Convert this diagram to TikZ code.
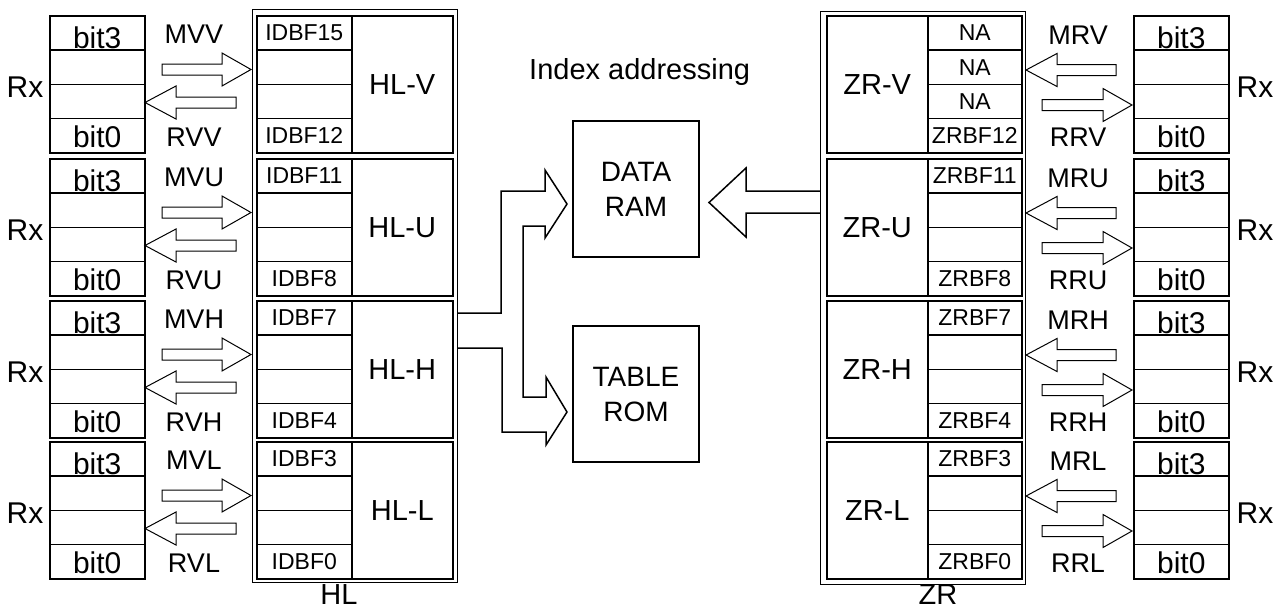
\documentclass[tikz,border=0pt]{standalone}
\usepackage{fontspec}
\setmainfont{Liberation Sans}
\newcommand{\blkarrow}[4]{%
  \pgfmathsetmacro{\bay}{#4-5.5}\pgfmathsetmacro{\bby}{#4+5.5}%
  \pgfmathsetmacro{\bcy}{#4-16.5}\pgfmathsetmacro{\bdy}{#4+16.5}%
  \pgfmathsetmacro{\bmy}{#4}%
  \draw[barrow] (#1,\bay) -- (#2,\bay) -- (#2,\bcy) -- (#3,\bmy) -- (#2,\bdy) -- (#2,\bby) -- (#1,\bby) -- cycle;}
\begin{document}
\begin{tikzpicture}[x=1pt,y=-1pt,
  cell/.style={draw, line width=1.5pt, minimum width=95pt, minimum height=34.25pt, inner sep=0pt, anchor=north west},
  tall/.style={draw, line width=1.5pt, minimum width=101pt, minimum height=137pt, inner sep=0pt, anchor=north west, font=\fontsize{29}{30}\selectfont},
  framebox/.style={draw, line width=1pt, inner sep=0pt, anchor=north west},
  biglbl/.style={inner sep=0pt, font=\fontsize{29}{30}\selectfont},
  bitlbl/.style={inner sep=0pt, font=\fontsize{30}{30}\selectfont},
  midlbl/.style={inner sep=0pt, font=\fontsize{27}{30}\selectfont},
  smlbl/.style={inner sep=0pt, font=\fontsize{23}{25}\selectfont},
  memb/.style={draw, line width=1.5pt, minimum width=126pt, minimum height=136pt, inner sep=0pt, align=center, font=\fontsize{28}{35}\selectfont},
  barrow/.style={draw, line width=1pt, line join=miter},
  conn/.style={draw, line width=1.5pt, line join=miter}]
\useasboundingbox (0,0) rectangle (1281,608);
% frames
\node[framebox, minimum width=205pt, minimum height=573pt] (hlf) at (252,9) {};
\node[framebox, minimum width=205pt, minimum height=573pt] (zrf) at (820,11) {};
\node[biglbl, anchor=base] (hlname) at (339,604) {HL};
\node[biglbl, anchor=base] (zrname) at (938,604) {ZR};
% left side
\foreach \T/\m/\r/\hl/\ta/\tb [count=\i] in {15/MVV/RVV/HL-V/IDBF15/IDBF12, 158/MVU/RVU/HL-U/IDBF11/IDBF8, 300/MVH/RVH/HL-H/IDBF7/IDBF4, 441/MVL/RVL/HL-L/IDBF3/IDBF0} {
  \foreach \k in {0,1,2,3} {
    \node[cell] (LR\i-\k) at (49,{\T+\k*34.25}) {};
    \node[cell] (HC\i-\k) at (256,{\T+\k*34.25}) {};
  }
  \node[tall] (HB\i) at (351,\T) {\hl};
  \node[bitlbl] at ([yshift=-5pt]LR\i-0.center) {bit3};
  \node[bitlbl] at ([yshift=-1pt]LR\i-3.center) {bit0};
  \node[smlbl] at (HC\i-0.center) {\ta};
  \node[smlbl] at (HC\i-3.center) {\tb};
  \node[bitlbl] (rxl\i) at (25,{\T+72}) {Rx};
  \node[midlbl] (ml\i) at (194,{\T+19.5}) {\m};
  \node[midlbl] (rl\i) at (194,{\T+122}) {\r};
  \blkarrow{162}{222}{251}{\T+54.5}
  \blkarrow{236}{176}{145}{\T+87.5}
}
% right side
\foreach \T/\m/\r/\zr/\ta/\tb/\tc/\td [count=\i] in {15/MRV/RRV/ZR-V/NA/NA/NA/ZRBF12, 158/MRU/RRU/ZR-U/ZRBF11//{}/ZRBF8, 300/MRH/RRH/ZR-H/ZRBF7//{}/ZRBF4, 441/MRL/RRL/ZR-L/ZRBF3//{}/ZRBF0} {
  \foreach \k in {0,1,2,3} {
    \node[cell, minimum width=94pt] (ZC\i-\k) at (927,{\T+\k*34.25}) {};
    \node[cell] (RR\i-\k) at (1133,{\T+\k*34.25}) {};
  }
  \node[tall] (ZB\i) at (826,\T) {\zr};
  \node[bitlbl] at ([yshift=-5pt]RR\i-0.center) {bit3};
  \node[bitlbl] at ([yshift=-1pt]RR\i-3.center) {bit0};
  \node[smlbl] at (ZC\i-0.center) {\ta};
  \node[smlbl] at (ZC\i-1.center) {\tb};
  \node[smlbl] at (ZC\i-2.center) {\tc};
  \node[smlbl] at (ZC\i-3.center) {\td};
  \node[bitlbl] (rxr\i) at (1255,{\T+72}) {Rx};
  \node[midlbl] (mr\i) at (1078,{\T+20}) {\m};
  \node[midlbl] (rr\i) at (1078,{\T+122}) {\r};
  \blkarrow{1116}{1057}{1026}{\T+55}
  \blkarrow{1042}{1103}{1132}{\T+90}
}
% memories
\node[memb] (ram) at (636,189) {DATA\\RAM};
\node[memb] (rom) at (636,394) {TABLE\\ROM};
\node[biglbl, anchor=base west] (idx) at (529,79) {Index addressing};
% HL to memories
\draw[conn] (hlf.east |- 0,313) -- (501,313) -- (501,191) -- (545,191) -- (545,170) -- (567,204) -- (545,238) -- (545,226) -- (523,226) -- (523,397) -- (546,397) -- (546,377) -- (567,412) -- (546,445) -- (546,432) -- (502,432) -- (502,348) -- (hlf.east |- 0,348);
% ZR to DATA RAM
\draw[conn] (zrf.west |- 0,191) -- (746,191) -- (746,168) -- (709,202.5) -- (746,237) -- (746,213) -- (zrf.west |- 0,213);
\end{tikzpicture}
\end{document}
